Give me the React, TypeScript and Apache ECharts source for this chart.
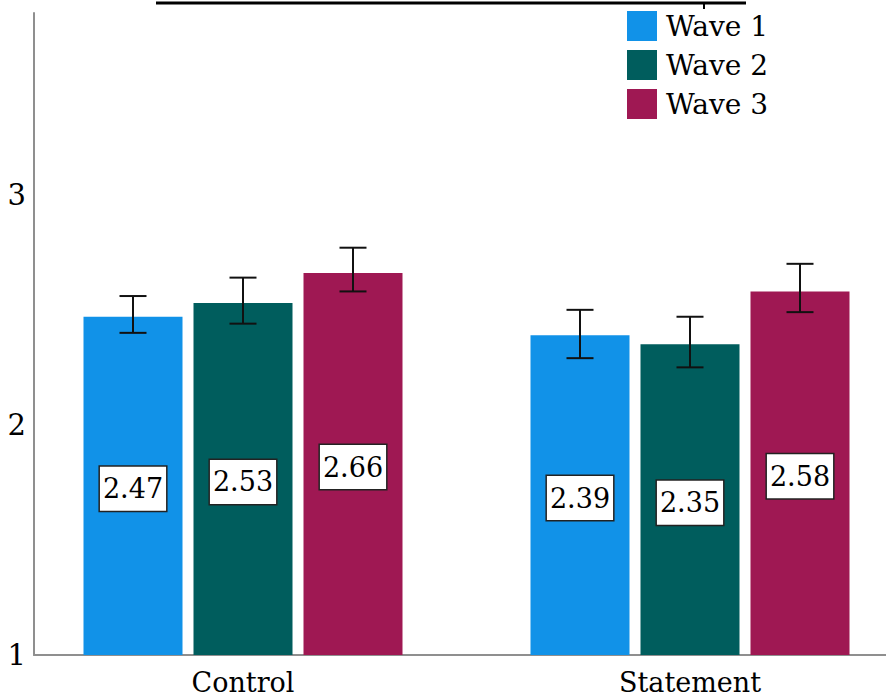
import React, { useEffect, useRef } from "react";
import * as echarts from "echarts";

const categories = ["Control", "Statement"];
const waveNames = ["Wave 1", "Wave 2", "Wave 3"];
const wave1 = [2.47, 2.39];
const wave2 = [2.53, 2.35];
const wave3 = [2.66, 2.58];
const wave1Low = [2.4, 2.29];
const wave1High = [2.56, 2.5];
const wave2Low = [2.44, 2.25];
const wave2High = [2.64, 2.47];
const wave3Low = [2.58, 2.49];
const wave3High = [2.77, 2.7];
const yTicks = [1, 2, 3];

const colors = ["#1192e8", "#005d5d", "#9f1853"];
const FONT = "DejaVu Serif";
const BAR_W = 99;
const BAR_GAP = 11;

export default function App() {
  const ref = useRef<HTMLDivElement>(null);
  useEffect(() => {
    if (!ref.current) return;
    const chart = echarts.init(ref.current, undefined, { renderer: "svg" });
    const values = [wave1, wave2, wave3];
    const lows = [wave1Low, wave2Low, wave3Low];
    const highs = [wave1High, wave2High, wave3High];
    const yMin = yTicks[0];
    const yMax = 3.79;

    const barSeries = values.map((vals, i) => ({
      name: waveNames[i],
      type: "bar",
      xAxisIndex: 0,
      yAxisIndex: 0,
      barWidth: BAR_W,
      barGap: (BAR_GAP / BAR_W) * 100 + "%",
      itemStyle: { color: colors[i] },
      data: vals,
      z: 2,
      label: {
        show: true,
        position: "inside",
        offset: [0, 3],
        formatter: (p: any) => Number(p.value).toFixed(2),
        fontFamily: FONT,
        fontSize: 27,
        color: "#000",
        backgroundColor: "#fff",
        borderColor: "#222",
        borderWidth: 1.5,
        padding: [5, 3, 4, 3],
        lineHeight: 35,
      },
    }));

    const errSeries = values.map((vals, i) => ({
      name: waveNames[i] + " CI",
      type: "custom",
      xAxisIndex: 0,
      yAxisIndex: 0,
      z: 5,
      silent: true,
      data: vals.map((_, k) => [k, lows[i][k], highs[i][k]]),
      renderItem: (params: any, api: any) => {
        const top = api.coord([api.value(0), api.value(2)]);
        const bot = api.coord([api.value(0), api.value(1)]);
        const x = top[0] + (i - 1) * (BAR_W + BAR_GAP);
        const cap = 13.5;
        const style = { stroke: "#111", lineWidth: 2 };
        return {
          type: "group",
          children: [
            { type: "line", shape: { x1: x, y1: top[1], x2: x, y2: bot[1] }, style },
            { type: "line", shape: { x1: x - cap, y1: top[1], x2: x + cap, y2: top[1] }, style },
            { type: "line", shape: { x1: x - cap, y1: bot[1], x2: x + cap, y2: bot[1] }, style },
          ],
        };
      },
    }));

    chart.setOption({
      animation: false,
      backgroundColor: "#fff",
      textStyle: { fontFamily: FONT },
      grid: [
        { left: 19.5, right: -27.5, top: 13, bottom: 40, outerBoundsMode: "none" },
        { left: 34, right: 0, top: 13, bottom: 40, outerBoundsMode: "none" },
      ],
      legend: {
        data: waveNames,
        orient: "vertical",
        left: 627,
        top: 11,
        padding: 0,
        itemWidth: 30,
        itemHeight: 30,
        itemGap: 9,
        icon: "rect",
        selectedMode: false,
        textStyle: {
          fontFamily: FONT,
          fontSize: 28,
          color: "#000",
          lineHeight: 30,
          padding: [0, 0, 0, 4],
        },
      },
      xAxis: [
        {
          type: "category",
          gridIndex: 0,
          data: categories,
          axisLine: { show: false },
          axisTick: { show: false },
          axisLabel: {
            fontFamily: FONT,
            fontSize: 27,
            color: "#000",
            margin: 14,
            lineHeight: 27,
          },
        },
        {
          type: "value",
          gridIndex: 1,
          min: 0,
          max: 1,
          axisLine: { show: true, lineStyle: { color: "#8f8f8f", width: 2 } },
          axisTick: { show: false },
          axisLabel: { show: false },
          splitLine: { show: false },
        },
      ],
      yAxis: [
        {
          type: "value",
          gridIndex: 0,
          min: yMin,
          max: yMax,
          startValue: yMin,
          show: false,
          splitLine: { show: false },
        },
        {
          type: "value",
          gridIndex: 1,
          min: yMin,
          max: yMax,
          interval: 1,
          axisLine: { show: true, lineStyle: { color: "#8f8f8f", width: 2 } },
          axisTick: { show: false },
          splitLine: { show: false },
          axisLabel: {
            fontFamily: FONT,
            fontSize: 29,
            color: "#000",
            margin: 8,
            showMaxLabel: false,
            formatter: (v: number) => (yTicks.includes(v) ? String(v) : ""),
          },
        },
      ],
      graphic: [
        {
          type: "line",
          shape: { x1: 156, y1: 3, x2: 746, y2: 3 },
          style: { stroke: "#000", lineWidth: 3 },
        },
        {
          type: "line",
          shape: { x1: 704, y1: 3, x2: 704, y2: 9 },
          style: { stroke: "#000", lineWidth: 2 },
        },
      ],
      series: [...barSeries, ...errSeries],
    });
    return () => chart.dispose();
  }, []);
  return (
    <div
      ref={ref}
      style={{ position: "fixed", left: 0, top: 0, width: 886, height: 695 }}
    />
  );
}
